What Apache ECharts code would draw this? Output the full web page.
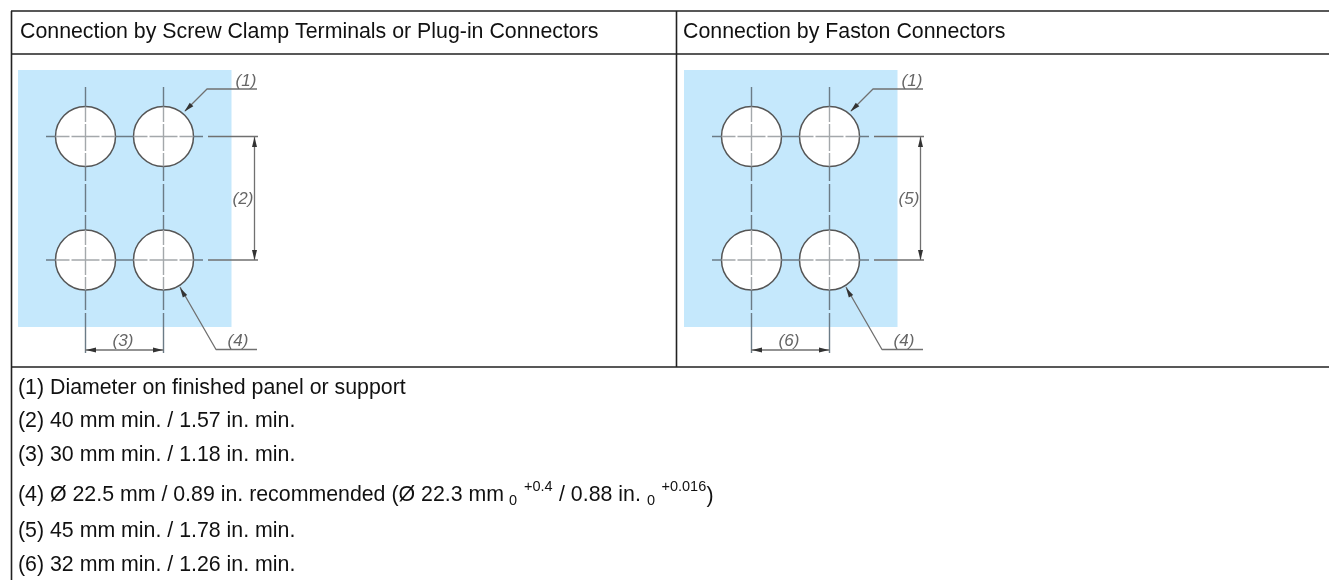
<!DOCTYPE html>
<html><head><meta charset="utf-8"><style>html,body{margin:0;padding:0;background:#fff}#c{width:1329px;height:580px;filter:blur(0.35px)}</style>
<script src="https://cdn.jsdelivr.net/npm/echarts@6/dist/echarts.min.js"></script></head>
<body><div id="c"></div>
<script>
const headerTexts = ["Connection by Screw Clamp Terminals or Plug-in Connectors", "Connection by Faston Connectors"];
const noteTexts = ["(1) Diameter on finished panel or support","(2) 40 mm min. / 1.57 in. min.","(3) 30 mm min. / 1.18 in. min.","(4) Ø 22.5 mm / 0.89 in. recommended (Ø 22.3 mm","(5) 45 mm min. / 1.78 in. min.","(6) 32 mm min. / 1.26 in. min."];
const noteRows = [388.5,421,455,495,531,565];
const noteFragments = [[509,"0",501,14.5],[524,"+0.4",486.5,14.5],[559,"/ 0.88 in.",495,21.33],[647,"0",501,14.5],[661.5,"+0.016",486.5,14.5],[706.5,")",496,21.33]];
const tableRules = [[[11,11],[1329,11]],[[11.5,11],[11.5,580]],[[11.5,54],[1329,54]],[[676.5,11],[676.5,367]],[[11.5,367],[1329,367]]];
const panel = [18,70,231.5,327];
const holeX = [85.5,163.5];
const holeY = [136.5,260];
const holeDiameter = 60;
const centerOuterH = [[46,55.5],[115.5,133.5],[193.5,203]];
const centerInnerH = [[55.5,69.5],[71.5,99.5],[101.5,115.5],[133.5,147.5],[149.5,177.5],[179.5,193.5]];
const centerOuterV = [[87,106.5],[166.5,181],[184,212],[215,230],[290,310],[313,353]];
const centerInnerV = [[106.5,122],[124,151],[153,166.5],[230,245],[247,275],[277,290]];
const dimLines = [[[208,136.5],[258,136.5]],[[208,260],[258,260]],[[254.5,137],[254.5,260]],[[85,350],[163.5,350]],
  [[185,111],[207,89],[257,89]],[[180,287],[216,349.5],[257,349.5]]];
const arrows = [[254.5,142,0],[254.5,255,180],[91,350,90],[158,350,-90],[188,108,135],[182.5,292,30]];
const diagramLabels = [[["(1)",246,81],["(2)",243,199],["(3)",123,341],["(4)",238,341]],[["(1)",246,81],["(5)",243,199],["(6)",123,341],["(4)",238,341]]];

const W=1329,H=580;
function segs(list){const out=[];list.forEach(s=>{s.forEach(p=>out.push(p));out.push([null,null]);});return out;}
const lineBase={type:'line',symbol:'none',silent:true,animation:false,clip:false,connectNulls:false};
function textSeries(xi,items,style){
  return {type:'custom',xAxisIndex:xi,yAxisIndex:xi,silent:true,animation:false,clip:false,z:9,
    encode:{x:0,y:1},data:items.map(t=>[t[0],t[1]]),
    renderItem:(p,api)=>{const t=items[p.dataIndex];const c=api.coord([api.value(0),api.value(1)]);
      return {type:'text',x:c[0],y:c[1],style:Object.assign({text:t[2],verticalAlign:'middle',align:t[4]||'left',fill:'#111',fontFamily:'"Liberation Sans",Arial,sans-serif',fontSize:t[3]||21.33},style||{})};}};
}
function diagram(xi,labels){
  const cx=[],oh=[],ih=[],ov=[],iv=[];
  holeX.forEach(x=>holeY.forEach(y=>cx.push([x,y])));
  holeY.forEach(y=>{centerOuterH.forEach(s=>oh.push([[s[0],y],[s[1],y]]));centerInnerH.forEach(s=>ih.push([[s[0],y],[s[1],y]]));});
  holeX.forEach(x=>{centerOuterV.forEach(s=>ov.push([[x,s[0]],[x,s[1]]]));centerInnerV.forEach(s=>iv.push([[x,s[0]],[x,s[1]]]));});
  return [
    {type:'custom',xAxisIndex:xi,yAxisIndex:xi,silent:true,animation:false,clip:false,z:1,data:[panel],
      renderItem:(p,api)=>{const a=api.coord([api.value(0),api.value(1)]),b=api.coord([api.value(2),api.value(3)]);
        return {type:'rect',shape:{x:a[0],y:a[1],width:b[0]-a[0],height:b[1]-a[1]},style:{fill:'#c5e8fc'}};}},
    {type:'scatter',xAxisIndex:xi,yAxisIndex:xi,silent:true,animation:false,clip:false,z:2,data:cx,symbolSize:holeDiameter,
      itemStyle:{color:'#fff',borderColor:'#555',borderWidth:1.5,opacity:1}},
    Object.assign({},lineBase,{xAxisIndex:xi,yAxisIndex:xi,z:3,data:segs(ih.concat(iv)),lineStyle:{color:'#a4a8ab',width:1.4}}),
    Object.assign({},lineBase,{xAxisIndex:xi,yAxisIndex:xi,z:3,data:segs(oh.concat(ov)),lineStyle:{color:'#6b7b86',width:1.4}}),
    Object.assign({},lineBase,{xAxisIndex:xi,yAxisIndex:xi,z:3,data:segs(dimLines),lineStyle:{color:'#707070',width:1.3}}),
    {type:'scatter',xAxisIndex:xi,yAxisIndex:xi,silent:true,animation:false,clip:false,z:4,symbol:'triangle',symbolSize:[5,10],
      itemStyle:{color:'#333',opacity:1},data:arrows.map(a=>({value:[a[0],a[1]],symbolRotate:a[2]}))},
    textSeries(xi,labels.map(l=>[l[1],l[2],l[0],17,'center']),{fontStyle:'italic',fill:'#666'})
  ];
}
const axisOff=(max,idx)=>({type:'value',min:0,max:max,show:false,gridIndex:idx});
const texts=[[20,32,headerTexts[0]],[683,32,headerTexts[1]]]
  .concat(noteTexts.map((t,i)=>[18,noteRows[i],t]))
  .concat(noteFragments.map(f=>[f[0],f[2],f[1],f[3]]));
const chart=echarts.init(document.getElementById('c'),null,{renderer:'canvas'});
chart.setOption({
  animation:false,backgroundColor:'#fff',
  grid:[{left:0,top:0,width:W,height:H},{left:0,top:0,width:W,height:H},{left:666,top:0,width:W-666,height:H}],
  xAxis:[axisOff(W,0),axisOff(W,1),axisOff(W-666,2)],
  yAxis:[0,1,2].map(i=>Object.assign(axisOff(H,i),{inverse:true})),
  series:[
    Object.assign({},lineBase,{xAxisIndex:0,yAxisIndex:0,z:5,data:segs(tableRules),lineStyle:{color:'#222',width:1.6}}),
    textSeries(0,texts)
  ].concat(diagram(1,diagramLabels[0])).concat(diagram(2,diagramLabels[1]))
});
</script></body></html>
